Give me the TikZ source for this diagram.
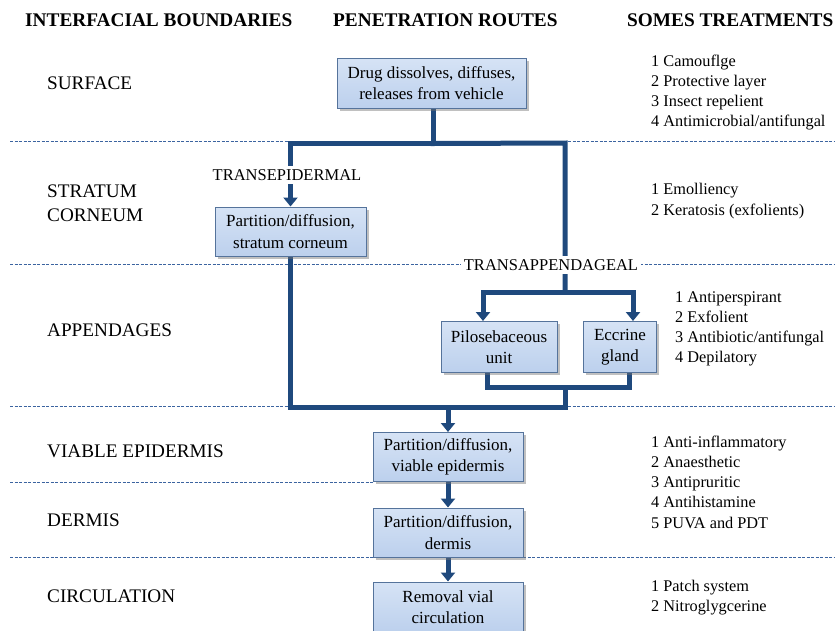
\documentclass[tikz,border=0pt]{standalone}
\usepackage{fontspec}
\IfFontExistsTF{LiberationSerif-Regular.ttf}{%
  \setmainfont{LiberationSerif}[Extension=.ttf, UprightFont=*-Regular, BoldFont=*-Bold, ItalicFont=*-Italic, BoldItalicFont=*-BoldItalic]}{%
  \setmainfont{Liberation Serif}}
\usetikzlibrary{arrows.meta,shadows,calc}
\definecolor{flowblue}{RGB}{31,73,125}
\definecolor{dashblue}{RGB}{60,100,160}
\definecolor{boxedge}{RGB}{85,115,155}
\definecolor{boxtop}{RGB}{214,227,245}
\definecolor{boxbot}{RGB}{188,208,237}
\pgfdeclarelayer{back}
\pgfdeclarelayer{mid}
\pgfsetlayers{back,mid,main}
\begin{document}
\begin{tikzpicture}[x=1pt,y=-1pt,
  hdr/.style={font=\fontsize{19.3}{22}\selectfont\bfseries, anchor=base west, inner sep=0},
  layer/.style={font=\fontsize{19.2}{24}\selectfont, anchor=base west, inner sep=0},
  treat/.style={font=\fontsize{16.3}{20}\selectfont, anchor=base west, inner sep=0},
  route/.style={font=\fontsize{16.5}{20}\selectfont, fill=white, inner sep=3pt},
  stepbox/.style={draw=boxedge, line width=1pt, top color=boxtop, bottom color=boxbot,
    align=center, font=\fontsize{17}{21.5}\selectfont, inner sep=0,
    drop shadow={shadow xshift=2.5pt,shadow yshift=-2.5pt,fill=black!55,opacity=.45}},
  flow/.style={draw=flowblue, line width=5pt, line cap=rect},
  arr/.style={-{Triangle[width=14pt,length=9pt]}},
  sep/.style={draw=dashblue, line width=0.8pt, dash pattern=on 3pt off 1.5pt}
]
\useasboundingbox (0,0) rectangle (835,630);
\clip (0,0) rectangle (835,630);

% headers
\node[hdr] (h1) at (25,26.5) {INTERFACIAL BOUNDARIES};
\node[hdr] (h2) at (333,26.5) {PENETRATION ROUTES};
\node[hdr] (h3) at (627,26.5) {SOMES TREATMENTS};

% layer labels
\node[layer] (l1) at (47,89.5) {SURFACE};
\node[layer] (l2a) at (47,197.5) {STRATUM};
\node[layer] (l2b) at (47,221.5) {CORNEUM};
\node[layer] (l3) at (47,336.5) {APPENDAGES};
\node[layer] (l4) at (47,457.5) {VIABLE EPIDERMIS};
\node[layer] (l5) at (47,526.5) {DERMIS};
\node[layer] (l6) at (47,602.5) {CIRCULATION};

% treatments
\foreach \t [count=\i] in {1 Camouflge, 2 Protective layer, 3 Insect repelient, 4 Antimicrobial/antifungal}
  \node[treat] (ta\i) at (651,{66+20*(\i-1)}) {\t};
\foreach \t [count=\i] in {1 Emolliency, 2 Keratosis (exfolients)}
  \node[treat] (tb\i) at (651,{194+21*(\i-1)}) {\t};
\foreach \t [count=\i] in {1 Antiperspirant, 2 Exfolient, 3 Antibiotic/antifungal, 4 Depilatory}
  \node[treat] (tc\i) at (675,{302+20*(\i-1)}) {\t};
\foreach \t [count=\i] in {1 Anti-inflammatory, 2 Anaesthetic, 3 Antipruritic, 4 Antihistamine, 5 PUVA and PDT}
  \node[treat] (td\i) at (651,{447+20.3*(\i-1)}) {\t};
\foreach \t [count=\i] in {1 Patch system, 2 Nitroglygcerine}
  \node[treat] (te\i) at (651,{591+20*(\i-1)}) {\t};

% boxes
\node[stepbox, minimum width=189pt, minimum height=50pt] (drug) at (431.5,83) {Drug dissolves, diffuses,\\releases from vehicle};
\node[stepbox, minimum width=151pt, minimum height=49pt] (sc) at (290.5,231.5) {Partition/diffusion,\\stratum corneum};
\node[stepbox, minimum width=116pt, minimum height=51pt] (pilo) at (499,347) {Pilosebaceous\\unit};
\node[stepbox, minimum width=73pt, minimum height=51pt] (ecc) at (620,347) {Eccrine\\gland};
\node[stepbox, minimum width=150pt, minimum height=49pt] (ve) at (448,457) {Partition/diffusion,\\viable epidermis};
\node[stepbox, minimum width=150pt, minimum height=49pt] (de) at (448,532.5) {Partition/diffusion,\\dermis};
\node[stepbox, minimum width=150pt, minimum height=50pt] (circ) at (448,607) {Removal vial\\circulation};

% route labels
\node[route] (tepi) at (287,175) {TRANSEPIDERMAL};
\node[route] (tapp) at (551,265) {TRANSAPPENDAGEAL};

% separators
\begin{pgfonlayer}{back}
\draw[sep] (10,141) -- (835,141);
\draw[sep] (10,264) -- (835,264);
\draw[sep] (10,406) -- (835,406);
\draw[sep] (10,482) -- (ve.south west);
\draw[sep] (10,557) -- (835,557);
\end{pgfonlayer}

% connectors
\begin{pgfonlayer}{mid}
\coordinate (jt) at ($(drug.south)+(1.5,35)$);
\coordinate (jr) at (565,143);
\coordinate (js) at (565,292);
\coordinate (pa) at ($(pilo.north)+(-16,0)$);
\coordinate (ea) at ($(ecc.north)+(13,0)$);
\coordinate (pb) at ($(pilo.south)+(-12,0)$);
\coordinate (eb) at ($(ecc.south)+(9,0)$);
\coordinate (yb) at (565,387);
\coordinate (ym) at (565,407);
\draw[flow] (drug.south -| jt) -- (jt);
\draw[flow,arr] (jt) -| (sc.north);
\draw[flow] (jt) -- (jr) -- (js);
\draw[flow,arr] (js) -| (pa);
\draw[flow,arr] (js) -| (ea);
\draw[flow] (pb) |- (eb |- yb) -- (eb);
\draw[flow] (yb) -- (ym);
\draw[flow] (sc.south) |- (ym);
\draw[flow,arr] (ve.north |- ym) -- (ve.north);
\draw[flow,arr] (ve.south) -- (de.north);
\draw[flow,arr] (de.south) -- (circ.north);
\end{pgfonlayer}
\end{tikzpicture}
\end{document}
